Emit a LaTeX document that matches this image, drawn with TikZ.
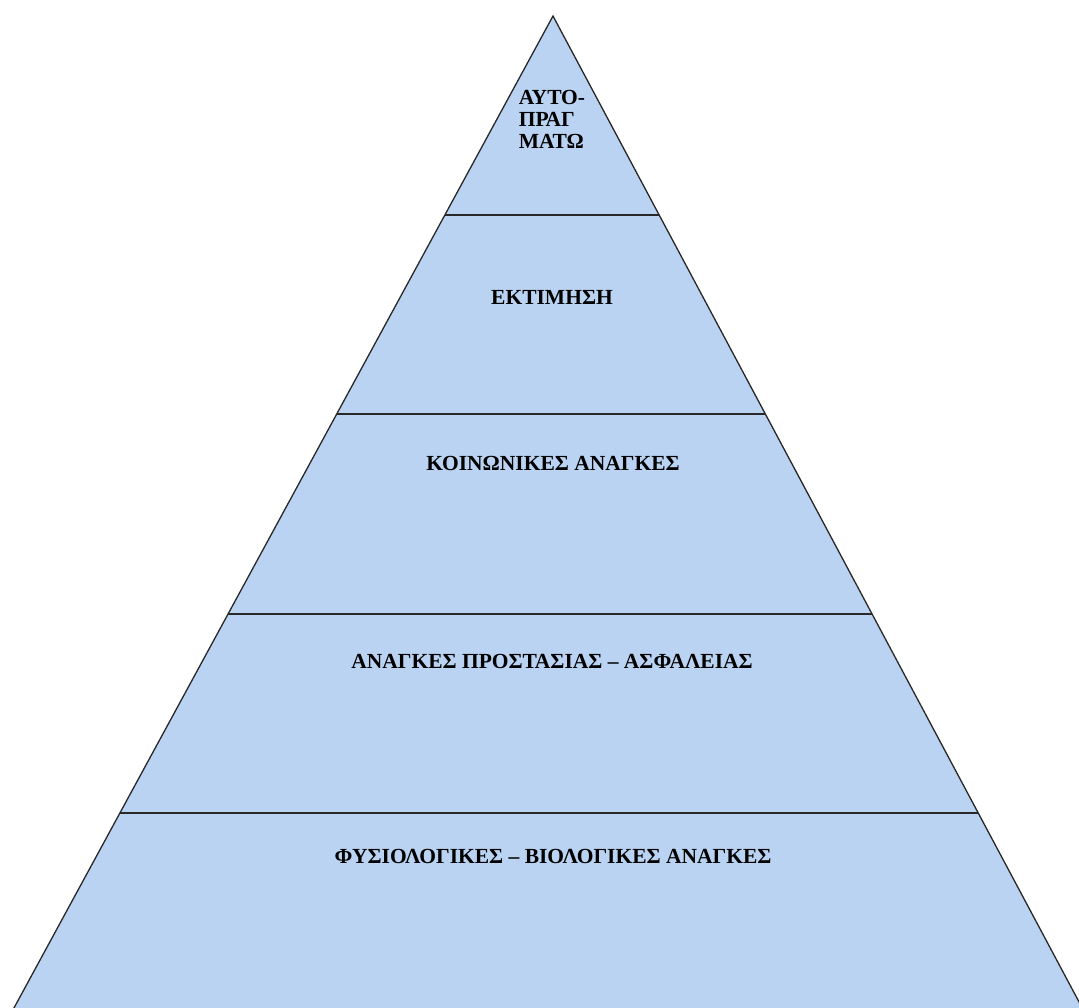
\documentclass[tikz,border=0pt]{standalone}
\usepackage{fontspec}
\setmainfont{Liberation Serif}
\definecolor{pyrfill}{RGB}{186,211,242}
\definecolor{pyrline}{RGB}{40,40,40}
\begin{document}
\begin{tikzpicture}[x=1pt,y=-1pt,
  lbl/.style={font=\bfseries\fontsize{21.5}{22}\selectfont, inner sep=0pt, text=black},
  sep/.style={draw=pyrline, line width=1.8pt}]
\useasboundingbox (0,0) rectangle (1079,1008);
\fill[white] (0,0) rectangle (1079,1008);
\coordinate (apex) at (553,16);
\coordinate (bl) at (2,1030);
\coordinate (br) at (1094,1030);
\begin{scope}
\clip (0,0) rectangle (1079,1008);
\fill[pyrfill] (bl) -- (apex) -- (br) -- cycle;
\begin{scope}
\clip (bl) -- (apex) -- (br) -- cycle;
\foreach \yy/\nm in {215/s1,414/s2,614/s3,813/s4}{
  \coordinate (\nm a) at (0,\yy);
  \coordinate (\nm b) at (1079,\yy);
  \draw[sep] (\nm a) -- (\nm b);
}
\end{scope}
\draw[draw=pyrline, line width=1.3pt] (bl) -- (apex) -- (br);
\end{scope}
\node[lbl, align=left] (t1) at (552,119) {ΑΥΤΟ-\\ΠΡΑΓ\\ΜΑΤΩ};
\node[lbl] (t2) at (552,297) {ΕΚΤΙΜΗΣΗ};
\node[lbl] (t3) at (553,463) {ΚΟΙΝΩΝΙΚΕΣ ΑΝΑΓΚΕΣ};
\node[lbl] (t4) at (552,661) {ΑΝΑΓΚΕΣ ΠΡΟΣΤΑΣΙΑΣ – ΑΣΦΑΛΕΙΑΣ};
\node[lbl] (t5) at (553,856) {ΦΥΣΙΟΛΟΓΙΚΕΣ – ΒΙΟΛΟΓΙΚΕΣ ΑΝΑΓΚΕΣ};
\end{tikzpicture}
\end{document}
